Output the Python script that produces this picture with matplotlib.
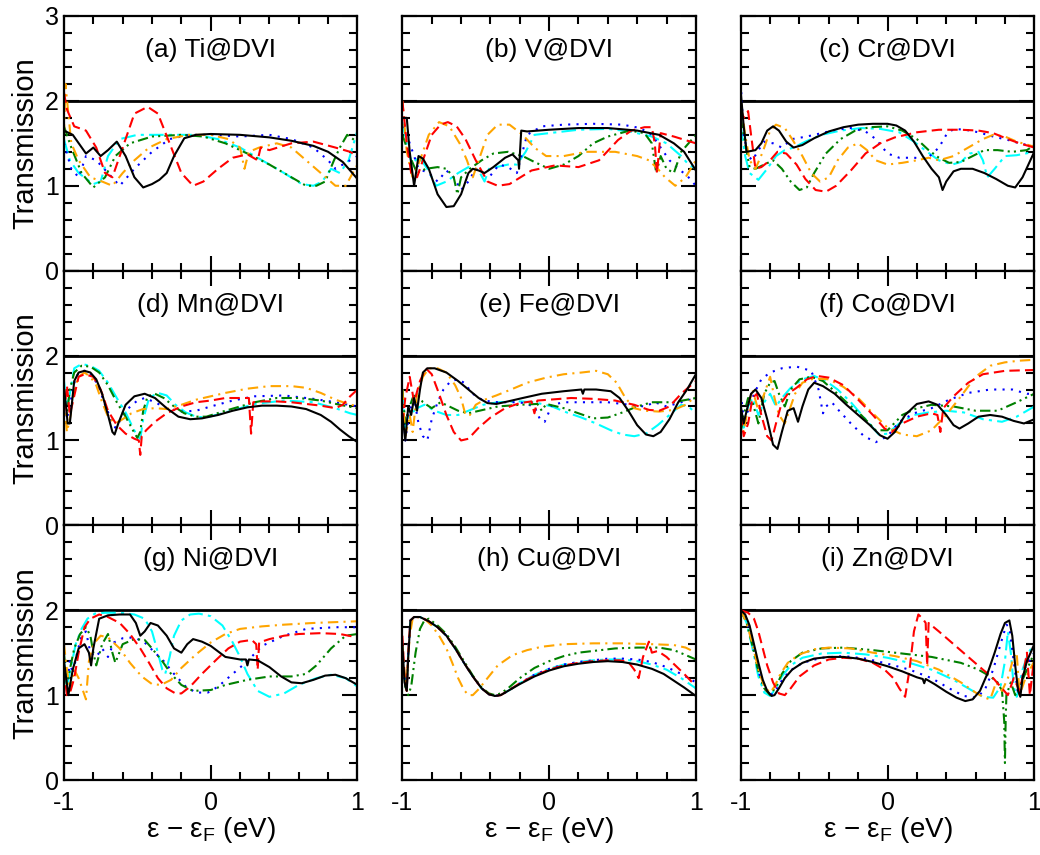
import numpy as np
import matplotlib.pyplot as plt
from matplotlib.ticker import MultipleLocator

plt.rcParams['font.family'] = ['Liberation Sans', 'DejaVu Sans']
plt.rcParams['mathtext.default'] = 'regular'

# panel titles
titles = ['(a) Ti@DVI', '(b) V@DVI', '(c) Cr@DVI',
          '(d) Mn@DVI', '(e) Fe@DVI', '(f) Co@DVI',
          '(g) Ni@DVI', '(h) Cu@DVI', '(i) Zn@DVI']

# transmission curves: name -> (energy, T)
ti = {
    'black': ([-1, -0.94, -0.85, -0.80, -0.75, -0.70, -0.64, -0.58, -0.52, -0.46, -0.40, -0.35, -0.30, -0.25, -0.18, -0.10, 0, 0.2, 0.4, 0.55, 0.7, 0.8, 0.9, 1.0],
              [1.65, 1.6, 1.38, 1.45, 1.35, 1.42, 1.52, 1.35, 1.1, 0.98, 1.02, 1.07, 1.15, 1.35, 1.56, 1.60, 1.61, 1.60, 1.57, 1.53, 1.47, 1.40, 1.28, 1.08]),
    'red': ([-1, -0.98, -0.93, -0.85, -0.78, -0.72, -0.67, -0.60, -0.52, -0.43, -0.36, -0.28, -0.20, -0.12, -0.05, 0.05, 0.15, 0.25, 0.32, 0.34, 0.40, 0.55, 0.70, 0.85, 0.95, 1.0],
            [2.1, 1.9, 1.7, 1.65, 1.45, 1.15, 1.1, 1.45, 1.85, 1.93, 1.85, 1.5, 1.15, 1.0, 1.05, 1.2, 1.33, 1.37, 1.3, 1.45, 1.42, 1.50, 1.52, 1.45, 1.40, 1.35]),
    'orange': ([-1, -0.99, -0.95, -0.90, -0.82, -0.74, -0.67, -0.60, -0.52, -0.42, -0.30, -0.15, 0.0, 0.12, 0.20, 0.23, 0.26, 0.33, 0.45, 0.55, 0.65, 0.75, 0.85, 0.92, 1.0],
               [1.6, 2.2, 1.5, 1.3, 1.1, 1.05, 1.0, 1.15, 1.3, 1.45, 1.55, 1.6, 1.6, 1.55, 1.45, 1.2, 1.4, 1.45, 1.5, 1.45, 1.3, 1.15, 1.0, 1.0, 1.25]),
    'green': ([-1, -0.95, -0.88, -0.80, -0.72, -0.65, -0.55, -0.40, -0.20, -0.05, 0.10, 0.25, 0.40, 0.55, 0.65, 0.72, 0.78, 0.84, 0.88, 0.93, 0.97, 1.0],
              [1.7, 1.45, 1.15, 0.98, 1.1, 1.35, 1.5, 1.58, 1.6, 1.58, 1.5, 1.38, 1.25, 1.1, 1.0, 1.0, 1.05, 1.3, 1.45, 1.6, 1.55, 1.5]),
    'cyan': ([-1, -0.96, -0.90, -0.80, -0.75, -0.70, -0.62, -0.50, -0.30, -0.10, 0.05, 0.20, 0.35, 0.50, 0.62, 0.70, 0.76, 0.82, 0.88, 0.94, 1.0],
             [1.55, 1.3, 1.15, 1.02, 1.05, 1.35, 1.55, 1.6, 1.6, 1.6, 1.55, 1.45, 1.3, 1.15, 1.02, 1.0, 1.05, 1.2, 1.15, 1.3, 1.65]),
    'blue': ([-1, -0.95, -0.90, -0.85, -0.78, -0.70, -0.62, -0.52, -0.40, -0.28, -0.15, 0.0, 0.20, 0.40, 0.55, 0.70, 0.80, 0.85, 0.90, 0.95, 1.0],
             [1.5, 1.2, 1.1, 1.35, 1.3, 1.15, 1.0, 1.2, 1.4, 1.55, 1.6, 1.6, 1.58, 1.6, 1.55, 1.45, 1.3, 1.2, 1.25, 1.3, 1.35]),
}

v = {
    'black': ([-1, -0.97, -0.95, -0.92, -0.89, -0.86, -0.82, -0.76, -0.70, -0.65, -0.60, -0.55, -0.52, -0.48, -0.44, -0.38, -0.30, -0.25, -0.21, -0.205, -0.19, -0.15, 0.0, 0.2, 0.4, 0.6, 0.75, 0.85, 0.92, 1.0],
              [1.8, 1.8, 1.4, 1.0, 1.35, 1.32, 1.2, 0.9, 0.75, 0.76, 0.9, 1.15, 1.2, 1.18, 1.15, 1.22, 1.33, 1.37, 1.3, 1.2, 1.65, 1.64, 1.66, 1.68, 1.68, 1.65, 1.6, 1.5, 1.4, 1.18]),
    'red': ([-1, -0.97, -0.94, -0.90, -0.86, -0.80, -0.74, -0.69, -0.63, -0.57, -0.50, -0.42, -0.35, -0.27, -0.12, 0.04, 0.2, 0.34, 0.47, 0.56, 0.65, 0.70, 0.72, 0.735, 0.76, 0.85, 1.0],
            [2.0, 1.5, 1.15, 1.1, 1.3, 1.6, 1.72, 1.75, 1.7, 1.55, 1.3, 1.05, 1.0, 1.02, 1.18, 1.24, 1.22, 1.3, 1.54, 1.65, 1.69, 1.69, 1.5, 1.15, 1.62, 1.58, 1.5]),
    'orange': ([-1, -0.97, -0.93, -0.88, -0.82, -0.75, -0.68, -0.61, -0.56, -0.52, -0.48, -0.42, -0.35, -0.27, -0.18, -0.10, -0.02, 0.1, 0.25, 0.45, 0.60, 0.68, 0.74, 0.79, 0.86, 0.93, 1.0],
               [2.0, 1.4, 1.1, 1.3, 1.6, 1.75, 1.7, 1.5, 1.3, 1.1, 1.3, 1.6, 1.72, 1.72, 1.6, 1.45, 1.35, 1.35, 1.4, 1.4, 1.35, 1.3, 1.2, 1.1, 1.0, 1.1, 1.3]),
    'green': ([-1, -0.95, -0.90, -0.84, -0.76, -0.70, -0.65, -0.625, -0.60, -0.54, -0.46, -0.38, -0.28, -0.18, -0.10, 0.0, 0.1, 0.2, 0.3, 0.4, 0.55, 0.65, 0.70, 0.73, 0.76, 0.80, 0.85, 0.90, 0.95, 1.0],
              [1.6, 1.35, 1.15, 1.2, 1.22, 1.2, 1.1, 0.9, 1.1, 1.2, 1.3, 1.38, 1.4, 1.35, 1.28, 1.2, 1.25, 1.35, 1.5, 1.58, 1.65, 1.62, 1.5, 1.15, 1.35, 1.2, 1.15, 1.4, 1.5, 1.6]),
    'cyan': ([-1, -0.96, -0.93, -0.89, -0.83, -0.77, -0.70, -0.62, -0.55, -0.48, -0.44, -0.41, -0.36, -0.28, -0.22, -0.16, -0.10, 0.0, 0.2, 0.4, 0.55, 0.7, 0.8, 0.9, 0.95, 1.0],
             [1.75, 1.4, 1.25, 1.35, 1.2, 1.0, 1.05, 1.15, 1.22, 1.18, 1.05, 1.2, 1.22, 1.25, 1.25, 1.4, 1.6, 1.62, 1.66, 1.67, 1.64, 1.58, 1.5, 1.35, 1.25, 1.2]),
    'blue': ([-1, -0.97, -0.93, -0.89, -0.82, -0.76, -0.70, -0.65, -0.60, -0.55, -0.50, -0.45, -0.40, -0.34, -0.28, -0.22, -0.15, -0.05, 0.1, 0.3, 0.5, 0.62, 0.70, 0.76, 0.82, 0.88, 0.94, 1.0],
             [1.7, 1.6, 1.4, 1.2, 1.15, 1.05, 1.18, 1.1, 0.95, 1.05, 1.2, 1.15, 1.12, 1.25, 1.22, 1.15, 1.6, 1.7, 1.72, 1.73, 1.72, 1.68, 1.6, 1.45, 1.3, 1.2, 1.12, 1.0]),
}

cr = {
    'black': ([-1, -0.98, -0.96, -0.90, -0.86, -0.82, -0.78, -0.74, -0.69, -0.64, -0.58, -0.50, -0.40, -0.30, -0.20, -0.10, 0.0, 0.06, 0.12, 0.18, 0.24, 0.30, 0.35, 0.375, 0.40, 0.45, 0.50, 0.58, 0.66, 0.74, 0.82, 0.87, 0.92, 1.0],
              [2.1, 1.7, 1.4, 1.42, 1.5, 1.65, 1.7, 1.65, 1.52, 1.45, 1.48, 1.56, 1.64, 1.69, 1.72, 1.73, 1.73, 1.71, 1.65, 1.52, 1.35, 1.2, 1.1, 0.95, 1.05, 1.17, 1.2, 1.2, 1.15, 1.08, 1.0, 0.98, 1.1, 1.4]),
    'red': ([-1, -0.98, -0.95, -0.93, -0.90, -0.86, -0.80, -0.75, -0.69, -0.62, -0.56, -0.49, -0.42, -0.35, -0.25, -0.15, -0.05, 0.05, 0.2, 0.35, 0.5, 0.62, 0.72, 0.82, 0.9, 1.0],
            [1.9, 1.8, 1.88, 1.6, 1.2, 1.22, 1.3, 1.4, 1.38, 1.25, 1.08, 0.95, 0.93, 1.0, 1.18, 1.38, 1.5, 1.57, 1.63, 1.66, 1.66, 1.65, 1.62, 1.55, 1.5, 1.45]),
    'orange': ([-1, -0.97, -0.94, -0.90, -0.85, -0.80, -0.76, -0.70, -0.65, -0.58, -0.52, -0.46, -0.40, -0.34, -0.27, -0.20, -0.14, -0.08, 0.0, 0.1, 0.2, 0.28, 0.35, 0.45, 0.55, 0.65, 0.72, 0.80, 0.88, 1.0],
               [2.0, 1.6, 1.3, 1.2, 1.4, 1.65, 1.72, 1.68, 1.55, 1.35, 1.15, 1.05, 1.1, 1.3, 1.45, 1.5, 1.42, 1.3, 1.25, 1.27, 1.3, 1.33, 1.3, 1.35, 1.45, 1.55, 1.6, 1.58, 1.52, 1.46]),
    'green': ([-1, -0.97, -0.94, -0.90, -0.84, -0.78, -0.72, -0.66, -0.60, -0.55, -0.50, -0.42, -0.32, -0.22, -0.12, 0.0, 0.1, 0.2, 0.28, 0.35, 0.42, 0.50, 0.58, 0.66, 0.75, 0.85, 0.95, 1.0],
              [1.8, 1.5, 1.22, 1.2, 1.25, 1.3, 1.2, 1.05, 0.95, 0.98, 1.15, 1.38, 1.55, 1.65, 1.69, 1.7, 1.65, 1.55, 1.42, 1.33, 1.27, 1.28, 1.35, 1.42, 1.42, 1.4, 1.42, 1.48]),
    'cyan': ([-1, -0.97, -0.94, -0.88, -0.82, -0.76, -0.70, -0.64, -0.56, -0.45, -0.32, -0.18, -0.05, 0.08, 0.18, 0.27, 0.35, 0.44, 0.50, 0.56, 0.62, 0.65, 0.68, 0.73, 0.80, 0.88, 1.0],
             [1.7, 1.35, 1.15, 1.07, 1.2, 1.35, 1.42, 1.45, 1.52, 1.6, 1.65, 1.68, 1.67, 1.63, 1.52, 1.4, 1.3, 1.25, 1.28, 1.38, 1.4, 1.3, 1.1, 1.2, 1.35, 1.36, 1.4]),
    'blue': ([-1, -0.98, -0.95, -0.92, -0.88, -0.84, -0.78, -0.72, -0.65, -0.55, -0.45, -0.35, -0.25, -0.15, -0.08, 0.0, 0.08, 0.18, 0.27, 0.35, 0.40, 0.45, 0.53, 0.62, 0.72, 0.82, 0.9, 1.0],
             [2.2, 1.6, 1.35, 1.3, 1.42, 1.52, 1.5, 1.45, 1.55, 1.58, 1.62, 1.66, 1.68, 1.64, 1.55, 1.38, 1.33, 1.33, 1.32, 1.45, 1.6, 1.67, 1.66, 1.63, 1.58, 1.54, 1.5, 1.46]),
}

mn = {
    'black': ([-1, -0.985, -0.975, -0.96, -0.93, -0.90, -0.86, -0.82, -0.78, -0.74, -0.70, -0.67, -0.655, -0.63, -0.58, -0.52, -0.45, -0.38, -0.30, -0.22, -0.14, -0.06, 0.05, 0.15, 0.25, 0.35, 0.45, 0.55, 0.65, 0.75, 0.82, 0.88, 0.94, 1.0],
              [1.6, 1.4, 1.2, 1.2, 1.7, 1.8, 1.82, 1.8, 1.72, 1.55, 1.3, 1.1, 1.07, 1.2, 1.42, 1.52, 1.55, 1.5, 1.38, 1.28, 1.25, 1.26, 1.3, 1.35, 1.39, 1.41, 1.41, 1.4, 1.37, 1.3, 1.22, 1.13, 1.05, 0.98]),
    'red': ([-1, -0.98, -0.96, -0.94, -0.90, -0.86, -0.80, -0.75, -0.70, -0.64, -0.58, -0.52, -0.49, -0.48, -0.47, -0.44, -0.38, -0.30, -0.20, -0.10, 0.0, 0.1, 0.2, 0.26, 0.275, 0.29, 0.35, 0.45, 0.55, 0.65, 0.75, 0.85, 0.90, 0.95, 1.0],
            [1.3, 1.65, 1.3, 1.45, 1.75, 1.78, 1.75, 1.6, 1.35, 1.18, 1.08, 1.02, 1.0, 0.83, 1.05, 1.12, 1.22, 1.32, 1.4, 1.45, 1.47, 1.5, 1.5, 1.5, 1.08, 1.45, 1.46, 1.46, 1.45, 1.43, 1.41, 1.38, 1.42, 1.52, 1.6]),
    'orange': ([-1, -0.98, -0.96, -0.93, -0.90, -0.86, -0.82, -0.78, -0.74, -0.70, -0.65, -0.60, -0.54, -0.46, -0.38, -0.30, -0.20, -0.10, 0.0, 0.1, 0.25, 0.4, 0.55, 0.65, 0.75, 0.85, 0.92, 1.0],
               [1.5, 1.1, 1.25, 1.6, 1.75, 1.8, 1.75, 1.65, 1.45, 1.28, 1.2, 1.25, 1.32, 1.37, 1.38, 1.37, 1.42, 1.48, 1.52, 1.56, 1.61, 1.64, 1.64, 1.62, 1.56, 1.48, 1.44, 1.4]),
    'green': ([-1, -0.98, -0.96, -0.93, -0.88, -0.82, -0.76, -0.70, -0.64, -0.58, -0.53, -0.50, -0.48, -0.46, -0.43, -0.38, -0.32, -0.25, -0.18, -0.1, -0.03, 0.1, 0.3, 0.45, 0.6, 0.75, 0.88, 1.0],
              [1.5, 1.3, 1.6, 1.8, 1.88, 1.87, 1.8, 1.65, 1.45, 1.28, 1.12, 1.03, 1.1, 1.35, 1.52, 1.55, 1.5, 1.4, 1.32, 1.28, 1.28, 1.35, 1.45, 1.5, 1.5, 1.47, 1.42, 1.38]),
    'cyan': ([-1, -0.98, -0.96, -0.93, -0.88, -0.82, -0.76, -0.70, -0.64, -0.58, -0.53, -0.50, -0.48, -0.46, -0.42, -0.36, -0.30, -0.24, -0.17, -0.1, -0.03, 0.1, 0.3, 0.5, 0.7, 0.85, 0.95, 1.0],
             [1.7, 1.4, 1.55, 1.85, 1.9, 1.88, 1.82, 1.68, 1.5, 1.33, 1.15, 1.05, 1.02, 1.25, 1.5, 1.56, 1.53, 1.42, 1.33, 1.28, 1.27, 1.33, 1.43, 1.47, 1.45, 1.38, 1.32, 1.3]),
    'blue': ([-1, -0.98, -0.95, -0.92, -0.88, -0.84, -0.80, -0.76, -0.72, -0.68, -0.65, -0.61, -0.56, -0.50, -0.45, -0.38, -0.30, -0.2, -0.1, 0.0, 0.15, 0.3, 0.5, 0.7, 0.85, 1.0],
             [1.6, 1.25, 1.5, 1.75, 1.82, 1.82, 1.75, 1.62, 1.42, 1.25, 1.15, 1.25, 1.38, 1.47, 1.5, 1.45, 1.38, 1.34, 1.35, 1.4, 1.47, 1.52, 1.53, 1.49, 1.45, 1.4]),
}

fe = {
    'black': ([-1, -0.98, -0.96, -0.94, -0.92, -0.90, -0.88, -0.86, -0.83, -0.78, -0.70, -0.62, -0.55, -0.48, -0.42, -0.36, -0.28, -0.18, -0.05, 0.1, 0.22, 0.23, 0.24, 0.32, 0.42, 0.48, 0.54, 0.60, 0.66, 0.71, 0.76, 0.82, 0.88, 0.94, 1.0],
              [1.3, 1.0, 1.4, 1.3, 1.5, 1.35, 1.6, 1.8, 1.85, 1.85, 1.8, 1.7, 1.6, 1.5, 1.44, 1.43, 1.46, 1.5, 1.55, 1.58, 1.6, 1.55, 1.6, 1.6, 1.58, 1.5, 1.35, 1.18, 1.07, 1.05, 1.1, 1.25, 1.45, 1.6, 1.78]),
    'red': ([-1, -0.98, -0.95, -0.92, -0.88, -0.84, -0.80, -0.75, -0.70, -0.65, -0.60, -0.55, -0.48, -0.40, -0.30, -0.20, -0.12, -0.10, -0.08, 0.0, 0.15, 0.3, 0.45, 0.58, 0.68, 0.75, 0.82, 0.9, 1.0],
            [1.2, 1.5, 1.75, 1.45, 1.7, 1.85, 1.78, 1.55, 1.3, 1.1, 1.0, 1.02, 1.15, 1.27, 1.38, 1.44, 1.46, 1.32, 1.47, 1.48, 1.5, 1.49, 1.47, 1.42, 1.36, 1.35, 1.4, 1.55, 1.7]),
    'orange': ([-1, -0.98, -0.95, -0.93, -0.90, -0.86, -0.82, -0.76, -0.70, -0.64, -0.60, -0.57, -0.54, -0.50, -0.44, -0.36, -0.26, -0.15, -0.02, 0.1, 0.22, 0.32, 0.40, 0.46, 0.52, 0.58, 0.65, 0.75, 0.85, 0.93, 1.0],
               [1.6, 1.05, 1.3, 1.1, 1.55, 1.75, 1.85, 1.85, 1.8, 1.65, 1.5, 1.3, 1.3, 1.42, 1.48, 1.53, 1.6, 1.68, 1.74, 1.78, 1.8, 1.82, 1.78, 1.68, 1.5, 1.38, 1.35, 1.34, 1.36, 1.42, 1.52]),
    'green': ([-1, -0.98, -0.96, -0.93, -0.90, -0.86, -0.80, -0.74, -0.68, -0.62, -0.55, -0.45, -0.35, -0.2, -0.08, -0.05, -0.02, 0.1, 0.2, 0.3, 0.4, 0.5, 0.6, 0.7, 0.85, 1.0],
              [1.6, 1.2, 1.35, 1.5, 1.55, 1.45, 1.38, 1.45, 1.4, 1.35, 1.32, 1.36, 1.4, 1.42, 1.43, 1.35, 1.43, 1.38, 1.32, 1.26, 1.27, 1.33, 1.4, 1.45, 1.45, 1.5]),
    'cyan': ([-1, -0.98, -0.95, -0.90, -0.85, -0.78, -0.70, -0.62, -0.55, -0.45, -0.35, -0.2, -0.1, 0.02, 0.12, 0.22, 0.32, 0.42, 0.5, 0.58, 0.66, 0.74, 0.82, 0.9, 0.95, 1.0],
             [1.6, 1.15, 1.3, 1.38, 1.42, 1.35, 1.3, 1.3, 1.35, 1.42, 1.45, 1.46, 1.45, 1.4, 1.33, 1.27, 1.2, 1.12, 1.07, 1.05, 1.08, 1.18, 1.3, 1.42, 1.4, 1.32]),
    'blue': ([-1, -0.98, -0.95, -0.92, -0.89, -0.86, -0.83, -0.80, -0.76, -0.72, -0.67, -0.62, -0.58, -0.52, -0.45, -0.35, -0.2, -0.1, -0.06, -0.03, 0.02, 0.1, 0.25, 0.4, 0.55, 0.65, 0.72, 0.8, 0.9, 1.0],
             [1.5, 1.0, 1.35, 1.5, 1.2, 1.05, 1.0, 1.25, 1.45, 1.6, 1.7, 1.72, 1.68, 1.55, 1.47, 1.45, 1.45, 1.4, 1.24, 1.22, 1.42, 1.45, 1.45, 1.45, 1.42, 1.4, 1.45, 1.4, 1.45, 1.5]),
}

co = {
    'black': ([-1, -0.98, -0.96, -0.93, -0.90, -0.86, -0.82, -0.78, -0.75, -0.72, -0.68, -0.64, -0.61, -0.58, -0.54, -0.50, -0.44, -0.36, -0.28, -0.20, -0.12, -0.05, 0.0, 0.05, 0.12, 0.2, 0.28, 0.34, 0.40, 0.45, 0.49, 0.55, 0.62, 0.7, 0.78, 0.86, 0.93, 1.0],
              [1.4, 1.2, 1.35, 1.55, 1.6, 1.5, 1.25, 0.95, 0.9, 1.1, 1.35, 1.38, 1.22, 1.4, 1.6, 1.68, 1.64, 1.55, 1.42, 1.3, 1.18, 1.06, 1.02, 1.1, 1.3, 1.43, 1.46, 1.42, 1.3, 1.18, 1.14, 1.2, 1.28, 1.3, 1.28, 1.23, 1.2, 1.25]),
    'red': ([-1, -0.98, -0.95, -0.92, -0.89, -0.86, -0.82, -0.79, -0.76, -0.72, -0.68, -0.62, -0.55, -0.48, -0.40, -0.30, -0.20, -0.10, -0.02, 0.03, 0.1, 0.2, 0.3, 0.34, 0.36, 0.38, 0.45, 0.55, 0.65, 0.8, 1.0],
            [1.3, 1.05, 1.2, 1.5, 1.55, 1.3, 1.05, 1.0, 1.2, 1.45, 1.55, 1.62, 1.72, 1.76, 1.74, 1.65, 1.48, 1.3, 1.14, 1.1, 1.2, 1.28, 1.32, 1.3, 1.1, 1.38, 1.52, 1.68, 1.78, 1.82, 1.83]),
    'orange': ([-1, -0.98, -0.95, -0.92, -0.88, -0.84, -0.80, -0.77, -0.74, -0.70, -0.67, -0.63, -0.58, -0.50, -0.40, -0.30, -0.20, -0.10, 0.0, 0.1, 0.2, 0.3, 0.4, 0.5, 0.6, 0.7, 0.8, 0.9, 1.0],
               [1.3, 1.1, 1.4, 1.6, 1.35, 1.55, 1.75, 1.5, 1.3, 1.2, 1.35, 1.55, 1.68, 1.73, 1.72, 1.63, 1.5, 1.32, 1.15, 1.07, 1.05, 1.12, 1.3, 1.52, 1.75, 1.88, 1.92, 1.94, 1.95]),
    'green': ([-1, -0.98, -0.95, -0.92, -0.88, -0.84, -0.80, -0.77, -0.74, -0.70, -0.66, -0.60, -0.52, -0.44, -0.36, -0.28, -0.18, -0.08, 0.0, 0.1, 0.2, 0.3, 0.45, 0.6, 0.75, 0.88, 1.0],
              [1.1, 1.3, 1.5, 1.45, 1.2, 1.55, 1.68, 1.7, 1.55, 1.4, 1.6, 1.72, 1.75, 1.7, 1.58, 1.45, 1.3, 1.12, 1.12, 1.3, 1.38, 1.42, 1.4, 1.35, 1.35, 1.45, 1.55]),
    'cyan': ([-1, -0.98, -0.95, -0.92, -0.88, -0.84, -0.80, -0.76, -0.72, -0.66, -0.58, -0.50, -0.42, -0.34, -0.25, -0.15, -0.06, 0.0, 0.08, 0.18, 0.28, 0.4, 0.52, 0.65, 0.78, 0.88, 1.0],
             [1.3, 1.15, 1.4, 1.5, 1.3, 1.45, 1.55, 1.4, 1.5, 1.62, 1.72, 1.76, 1.7, 1.6, 1.45, 1.25, 1.07, 1.08, 1.2, 1.3, 1.33, 1.35, 1.33, 1.25, 1.22, 1.28, 1.4]),
    'blue': ([-1, -0.98, -0.95, -0.91, -0.86, -0.80, -0.72, -0.62, -0.52, -0.47, -0.44, -0.42, -0.38, -0.33, -0.25, -0.16, -0.08, 0.0, 0.08, 0.18, 0.3, 0.42, 0.55, 0.7, 0.85, 0.95, 1.0],
             [1.55, 1.25, 1.35, 1.55, 1.72, 1.8, 1.85, 1.87, 1.82, 1.6, 1.32, 1.4, 1.45, 1.35, 1.2, 1.05, 0.98, 1.05, 1.22, 1.32, 1.38, 1.48, 1.56, 1.6, 1.6, 1.55, 1.55]),
}

ni = {
    'black': ([-1, -0.97, -0.94, -0.90, -0.86, -0.83, -0.815, -0.80, -0.76, -0.70, -0.62, -0.55, -0.51, -0.48, -0.45, -0.41, -0.36, -0.30, -0.25, -0.2, -0.16, -0.12, -0.06, 0.0, 0.1, 0.2, 0.24, 0.25, 0.26, 0.32, 0.4, 0.48, 0.55, 0.62, 0.70, 0.78, 0.85, 0.92, 1.0],
              [1.4, 1.0, 1.3, 1.55, 1.6, 1.5, 1.35, 1.55, 1.9, 1.94, 1.95, 1.95, 1.85, 1.7, 1.75, 1.85, 1.82, 1.7, 1.55, 1.5, 1.6, 1.66, 1.63, 1.58, 1.45, 1.42, 1.42, 1.35, 1.42, 1.41, 1.33, 1.22, 1.15, 1.14, 1.18, 1.23, 1.24, 1.2, 1.12]),
    'red': ([-1, -0.98, -0.96, -0.93, -0.90, -0.86, -0.82, -0.76, -0.70, -0.62, -0.55, -0.48, -0.42, -0.36, -0.30, -0.24, -0.20, -0.14, -0.06, 0.04, 0.12, 0.2, 0.28, 0.31, 0.32, 0.33, 0.4, 0.5, 0.6, 0.75, 0.88, 1.0],
            [1.3, 1.0, 1.02, 1.2, 1.5, 1.8, 1.9, 1.95, 1.92, 1.85, 1.72, 1.55, 1.38, 1.2, 1.08, 1.02, 1.02, 1.1, 1.25, 1.42, 1.55, 1.63, 1.65, 1.6, 1.3, 1.62, 1.66, 1.7, 1.72, 1.73, 1.72, 1.68]),
    'orange': ([-1, -0.98, -0.96, -0.93, -0.90, -0.87, -0.85, -0.83, -0.80, -0.75, -0.70, -0.62, -0.55, -0.47, -0.40, -0.34, -0.27, -0.2, -0.1, 0.0, 0.1, 0.2, 0.35, 0.5, 0.7, 0.85, 1.0],
               [1.6, 1.3, 1.05, 1.3, 1.2, 1.05, 0.95, 1.4, 1.6, 1.7, 1.68, 1.55, 1.38, 1.22, 1.13, 1.12, 1.18, 1.32, 1.48, 1.62, 1.72, 1.78, 1.81, 1.83, 1.85, 1.86, 1.87]),
    'green': ([-1, -0.98, -0.96, -0.93, -0.89, -0.85, -0.82, -0.80, -0.78, -0.74, -0.70, -0.67, -0.65, -0.60, -0.52, -0.45, -0.40, -0.33, -0.27, -0.2, -0.12, 0.0, 0.1, 0.25, 0.4, 0.55, 0.65, 0.72, 0.82, 0.92, 1.0],
              [1.5, 1.1, 1.3, 1.55, 1.72, 1.8, 1.7, 1.5, 1.35, 1.6, 1.72, 1.5, 1.38, 1.6, 1.66, 1.65, 1.55, 1.4, 1.25, 1.12, 1.05, 1.06, 1.12, 1.18, 1.22, 1.22, 1.25, 1.35, 1.55, 1.7, 1.72]),
    'cyan': ([-1, -0.98, -0.95, -0.92, -0.88, -0.84, -0.79, -0.72, -0.62, -0.52, -0.45, -0.40, -0.36, -0.33, -0.31, -0.28, -0.25, -0.2, -0.14, -0.08, 0.0, 0.08, 0.15, 0.2, 0.25, 0.32, 0.4, 0.5, 0.6, 0.72, 0.82, 0.92, 1.0],
             [1.4, 1.1, 1.35, 1.6, 1.78, 1.9, 1.96, 1.97, 1.97, 1.95, 1.9, 1.75, 1.5, 1.3, 1.25, 1.45, 1.7, 1.88, 1.95, 1.96, 1.93, 1.82, 1.62, 1.45, 1.25, 1.05, 0.98, 1.02, 1.12, 1.2, 1.24, 1.2, 1.1]),
    'blue': ([-1, -0.98, -0.96, -0.94, -0.91, -0.88, -0.85, -0.82, -0.78, -0.74, -0.70, -0.66, -0.60, -0.52, -0.45, -0.38, -0.32, -0.25, -0.17, -0.1, -0.02, 0.05, 0.15, 0.25, 0.35, 0.5, 0.65, 0.85, 1.0],
             [1.6, 1.1, 1.4, 1.25, 1.5, 1.7, 1.75, 1.5, 1.45, 1.55, 1.45, 1.62, 1.67, 1.68, 1.62, 1.5, 1.4, 1.25, 1.1, 1.03, 1.03, 1.1, 1.25, 1.4, 1.58, 1.7, 1.78, 1.8, 1.8]),
}

cu = {
    'black': ([-1, -0.985, -0.97, -0.96, -0.945, -0.92, -0.88, -0.82, -0.76, -0.70, -0.64, -0.58, -0.52, -0.46, -0.41, -0.37, -0.33, -0.28, -0.2, -0.1, 0.0, 0.1, 0.2, 0.3, 0.4, 0.5, 0.6, 0.7, 0.78, 0.85, 0.92, 1.0],
              [1.6, 1.15, 1.05, 1.45, 1.88, 1.92, 1.92, 1.87, 1.8, 1.7, 1.55, 1.38, 1.22, 1.08, 1.01, 0.99, 1.0, 1.05, 1.13, 1.22, 1.29, 1.34, 1.37, 1.39, 1.4, 1.39, 1.36, 1.31, 1.25, 1.17, 1.09, 0.99]),
    'red': ([-1, -0.985, -0.97, -0.96, -0.945, -0.92, -0.88, -0.82, -0.76, -0.70, -0.64, -0.58, -0.52, -0.46, -0.41, -0.37, -0.33, -0.28, -0.2, -0.1, 0.0, 0.1, 0.2, 0.3, 0.4, 0.48, 0.54, 0.58, 0.61, 0.64, 0.68, 0.70, 0.74, 0.8, 0.86, 0.92, 0.97, 1.0],
            [1.7, 1.2, 1.05, 1.5, 1.88, 1.92, 1.92, 1.87, 1.8, 1.7, 1.55, 1.38, 1.22, 1.08, 1.01, 0.99, 1.0, 1.05, 1.14, 1.23, 1.3, 1.35, 1.38, 1.4, 1.41, 1.41, 1.39, 1.3, 1.2, 1.45, 1.63, 1.5, 1.52, 1.45, 1.35, 1.25, 1.16, 1.12]),
    'orange': ([-1, -0.98, -0.97, -0.95, -0.93, -0.90, -0.85, -0.80, -0.75, -0.70, -0.66, -0.62, -0.58, -0.55, -0.52, -0.48, -0.42, -0.35, -0.25, -0.15, -0.05, 0.1, 0.3, 0.5, 0.7, 0.85, 0.93, 1.0],
               [1.6, 1.15, 1.2, 1.7, 1.9, 1.92, 1.9, 1.82, 1.7, 1.55, 1.38, 1.2, 1.06, 1.0, 1.0, 1.07, 1.2, 1.35, 1.47, 1.53, 1.57, 1.6, 1.61, 1.61, 1.6, 1.59, 1.56, 1.5]),
    'green': ([-1, -0.98, -0.96, -0.94, -0.91, -0.88, -0.85, -0.82, -0.76, -0.70, -0.64, -0.58, -0.52, -0.46, -0.41, -0.37, -0.33, -0.28, -0.2, -0.1, 0.0, 0.1, 0.2, 0.3, 0.45, 0.6, 0.75, 0.85, 0.92, 1.0],
              [1.5, 1.1, 1.0, 1.1, 1.5, 1.78, 1.88, 1.9, 1.82, 1.72, 1.57, 1.4, 1.23, 1.09, 1.02, 1.0, 1.02, 1.08, 1.2, 1.32, 1.4, 1.46, 1.5, 1.52, 1.55, 1.56, 1.56, 1.53, 1.48, 1.42]),
    'cyan': ([-1, -0.985, -0.97, -0.96, -0.945, -0.92, -0.88, -0.82, -0.76, -0.70, -0.64, -0.58, -0.52, -0.46, -0.41, -0.37, -0.33, -0.28, -0.2, -0.1, 0.0, 0.1, 0.2, 0.3, 0.4, 0.5, 0.6, 0.7, 0.8, 0.9, 1.0],
             [1.65, 1.2, 1.05, 1.5, 1.88, 1.92, 1.92, 1.87, 1.8, 1.7, 1.55, 1.38, 1.22, 1.08, 1.01, 0.99, 1.0, 1.05, 1.14, 1.24, 1.31, 1.36, 1.39, 1.41, 1.42, 1.42, 1.4, 1.36, 1.3, 1.2, 1.08]),
    'blue': ([-1, -0.985, -0.97, -0.96, -0.945, -0.92, -0.88, -0.82, -0.76, -0.70, -0.64, -0.58, -0.52, -0.46, -0.41, -0.37, -0.33, -0.28, -0.2, -0.1, 0.0, 0.1, 0.2, 0.3, 0.4, 0.5, 0.6, 0.7, 0.8, 0.9, 1.0],
             [1.6, 1.15, 1.05, 1.5, 1.88, 1.92, 1.92, 1.87, 1.8, 1.7, 1.55, 1.38, 1.22, 1.08, 1.01, 0.99, 1.0, 1.05, 1.14, 1.24, 1.31, 1.36, 1.39, 1.41, 1.43, 1.43, 1.42, 1.39, 1.33, 1.25, 1.15]),
}

zn = {
    'black': ([-1, -0.97, -0.94, -0.91, -0.88, -0.85, -0.82, -0.79, -0.77, -0.74, -0.70, -0.65, -0.58, -0.5, -0.4, -0.3, -0.2, -0.1, 0.0, 0.1, 0.2, 0.24, 0.25, 0.26, 0.32, 0.4, 0.47, 0.53, 0.58, 0.63, 0.68, 0.73, 0.77, 0.80, 0.83, 0.85, 0.87, 0.89, 0.905, 0.92, 0.95, 1.0],
              [2.0, 1.95, 1.82, 1.6, 1.38, 1.18, 1.05, 0.99, 1.0, 1.08, 1.2, 1.3, 1.38, 1.43, 1.45, 1.45, 1.43, 1.39, 1.34, 1.28, 1.21, 1.19, 1.14, 1.19, 1.13, 1.04, 0.97, 0.93, 0.95, 1.05, 1.25, 1.5, 1.72, 1.85, 1.88, 1.7, 1.35, 1.05, 0.98, 1.2, 1.4, 1.6]),
    'red': ([-1, -0.95, -0.91, -0.88, -0.85, -0.82, -0.78, -0.74, -0.70, -0.66, -0.6, -0.5, -0.4, -0.3, -0.2, -0.1, -0.02, 0.04, 0.08, 0.12, 0.15, 0.18, 0.21, 0.24, 0.26, 0.27, 0.28, 0.35, 0.45, 0.55, 0.65, 0.72, 0.78, 0.82, 0.86, 0.9, 0.93, 0.95, 0.97, 1.0],
            [2.0, 1.97, 1.9, 1.75, 1.55, 1.35, 1.15, 1.02, 1.0, 1.08, 1.22, 1.35, 1.42, 1.44, 1.43, 1.38, 1.3, 1.2, 1.08, 0.98, 1.3, 1.75, 1.95, 1.9, 1.85, 1.35, 1.85, 1.75, 1.6, 1.45, 1.3, 1.2, 1.08, 1.0, 1.2, 1.05, 1.3, 1.5, 1.0, 1.45]),
    'orange': ([-1, -0.96, -0.92, -0.88, -0.84, -0.80, -0.77, -0.73, -0.68, -0.6, -0.5, -0.4, -0.25, -0.1, 0.05, 0.2, 0.35, 0.5, 0.6, 0.66, 0.70, 0.74, 0.78, 0.82, 0.86, 0.88, 0.90, 0.94, 1.0],
               [2.0, 1.85, 1.6, 1.3, 1.1, 1.03, 1.1, 1.25, 1.38, 1.48, 1.54, 1.56, 1.55, 1.5, 1.46, 1.4, 1.3, 1.15, 1.03, 0.97, 0.95, 1.15, 1.05, 1.2, 1.45, 1.5, 1.0, 1.2, 1.4]),
    'green': ([-1, -0.96, -0.92, -0.88, -0.84, -0.80, -0.76, -0.72, -0.66, -0.58, -0.45, -0.3, -0.1, 0.1, 0.3, 0.5, 0.62, 0.7, 0.75, 0.78, 0.795, 0.80, 0.805, 0.81, 0.84, 0.87, 0.9, 0.95, 1.0],
              [2.0, 1.85, 1.58, 1.28, 1.08, 1.0, 1.1, 1.25, 1.4, 1.5, 1.55, 1.56, 1.53, 1.49, 1.45, 1.38, 1.3, 1.22, 1.15, 1.05, 0.7, 0.2, 0.7, 1.0, 1.15, 1.0, 1.1, 1.3, 1.5]),
    'cyan': ([-1, -0.96, -0.92, -0.88, -0.84, -0.80, -0.76, -0.72, -0.66, -0.58, -0.45, -0.3, -0.15, 0.0, 0.15, 0.3, 0.45, 0.55, 0.65, 0.72, 0.77, 0.80, 0.82, 0.84, 0.86, 0.88, 0.92, 0.96, 1.0],
             [2.0, 1.85, 1.55, 1.22, 1.03, 0.99, 1.08, 1.22, 1.35, 1.44, 1.49, 1.5, 1.48, 1.44, 1.38, 1.3, 1.18, 1.08, 0.98, 0.97, 1.1, 1.4, 1.75, 1.5, 1.1, 0.98, 1.3, 1.5, 1.6]),
    'blue': ([-1, -0.96, -0.92, -0.88, -0.84, -0.80, -0.77, -0.73, -0.67, -0.58, -0.45, -0.3, -0.15, 0.0, 0.15, 0.3, 0.42, 0.52, 0.6, 0.66, 0.72, 0.77, 0.81, 0.83, 0.86, 0.89, 0.93, 1.0],
             [2.0, 1.88, 1.6, 1.28, 1.08, 1.0, 1.03, 1.15, 1.28, 1.38, 1.44, 1.46, 1.43, 1.37, 1.3, 1.2, 1.08, 0.99, 0.97, 1.05, 1.3, 1.6, 1.83, 1.8, 1.4, 1.0, 1.3, 1.5]),
}

panels = [ti, v, cr, mn, fe, co, ni, cu, zn]

# line styles (dash patterns in points, scaled by linewidth)
styles = {
    'cyan':   dict(color='cyan', dashes=(7, 2.5, 1.5, 2.5)),
    'blue':   dict(color='blue', dashes=(1, 3)),
    'green':  dict(color='green', dashes=(5, 2, 1, 2, 1, 2)),
    'orange': dict(color='orange', dashes=(5, 2.5, 1, 2.5)),
    'red':    dict(color='red', dashes=(5, 2.5)),
    'black':  dict(color='black'),
}
order = ['cyan', 'blue', 'green', 'orange', 'red', 'black']

fig, axes = plt.subplots(3, 3, figsize=(10.4, 8.55), dpi=100)
fig.subplots_adjust(left=0.0615, right=0.9945, top=0.9813, bottom=0.0877,
                    hspace=0, wspace=0.153)

for k, ax in enumerate(axes.flat):
    row, col = divmod(k, 3)
    data = panels[k]
    ax.axhline(2, color='black', lw=2, zorder=1)
    for name in order:
        x, y = data[name]
        ax.plot(x, y, lw=1.5, zorder=2, **styles[name])

    ax.set_xlim(-1, 1)
    ax.set_ylim(0, 3)
    ax.text(0, 2.6, titles[k], ha='center', va='center', fontsize=19)

    ax.xaxis.set_major_locator(MultipleLocator(1))
    ax.xaxis.set_minor_locator(MultipleLocator(0.2))
    ax.yaxis.set_major_locator(MultipleLocator(1))
    ax.yaxis.set_minor_locator(MultipleLocator(0.2))
    ax.tick_params(which='both', direction='in', top=True, right=True,
                   width=1.5, labelsize=18)
    ax.tick_params(which='major', length=11)
    ax.tick_params(which='minor', length=5.5)
    ax.tick_params(axis='x', which='major', pad=8)
    for sp in ax.spines.values():
        sp.set_linewidth(1.6)

    if row == 2:
        ax.set_xticks([-1, 0, 1])
        ax.set_xticklabels(['-1', '0', '1'])
        ax.set_xlabel('ε − ε$_{F}$ (eV)', fontsize=20, labelpad=0)
    else:
        ax.set_xticklabels([])

    if col == 0:
        ax.set_yticks([0, 1, 2, 3])
        ax.set_yticklabels(['0', '1', '2', '3' if row == 0 else ''])
        ax.set_ylabel('Transmission', fontsize=21, labelpad=4)
    else:
        ax.set_yticklabels([])

fig.savefig('out.png', dpi=100)
